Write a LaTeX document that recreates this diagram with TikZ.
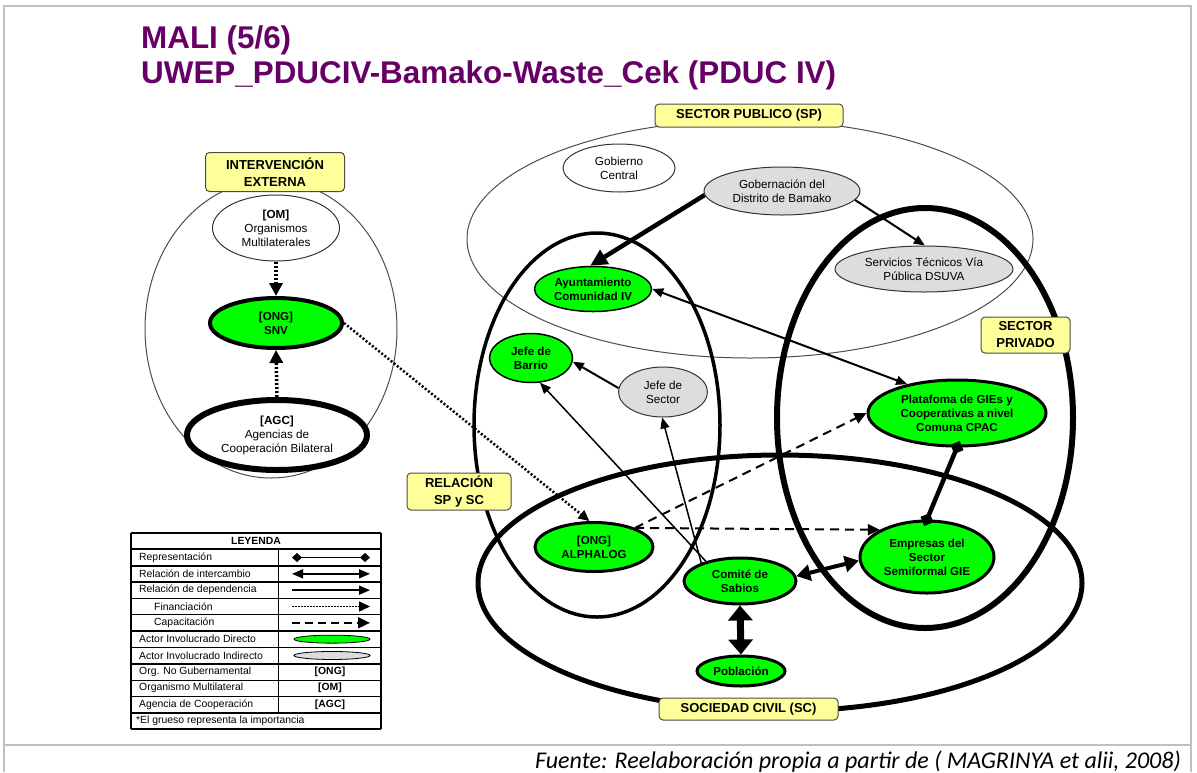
\documentclass[tikz,border=0pt]{standalone}
\usepackage{fontspec}
\setmainfont{Liberation Sans}
\newfontfamily\fuentefont{Carlito}
\usetikzlibrary{positioning, arrows.meta, shapes.geometric}

\definecolor{verde}{HTML}{00FF00}
\definecolor{gris}{HTML}{DDDDDD}
\definecolor{amarillo}{HTML}{FFFF99}
\definecolor{morado}{HTML}{660066}
\definecolor{marco}{HTML}{BFBFBF}

\begin{document}
\begin{tikzpicture}[x=1pt, y=-1pt, font=\fontsize{11.7}{14}\selectfont,
    sz/.style 2 args={minimum width=#1pt, minimum height=#2pt},
    grp/.style={ellipse, draw, inner sep=0pt},
    actor/.style={ellipse, draw=black!80, line width=1pt, inner sep=0pt, align=center, fill=white},
    actdir/.style={actor, draw=black, fill=verde, font=\bfseries\fontsize{11.6}{14}\selectfont},
    actind/.style={actor, fill=gris},
    etiq/.style={rectangle, rounded corners=4pt, draw=black!70, line width=1pt, fill=amarillo,
      inner sep=0pt, align=center, font=\bfseries\fontsize{13}{17}\selectfont},
    flecha/.style={-{Triangle[length=11pt, width=9pt]}, line width=2pt},
    interc/.style={{Triangle[length=11pt, width=9pt]}-{Triangle[length=11pt, width=9pt]}, line width=2pt},
    finan/.style={-{Triangle[length=11pt, width=10pt]}, line width=2.5pt, dash pattern=on 2pt off 2pt},
    capac/.style={-{Triangle[length=12pt, width=11pt]}, line width=2pt, dash pattern=on 9pt off 6pt},
    repres/.style={{Diamond[length=14pt, width=14pt]}-{Diamond[length=14pt, width=14pt]}, line width=4.5pt,
      shorten <=-7pt, shorten >=-7pt},
    leg/.style={anchor=west, inner sep=0pt, font=\fontsize{10.4}{12}\selectfont}]
  \useasboundingbox (0,0) rectangle (1197,772);

  % marco
  \draw[marco, line width=2pt] (4,772) -- (4,6) -- (1191,6) -- (1191,772);
  \draw[marco, line width=2pt] (4,745) -- (1191,745);

  % titulo
  \node[anchor=base west, inner sep=0pt, text=morado, font=\bfseries\fontsize{31.4}{31.4}\selectfont] (tit1) at (141,48) {MALI (5/6)};
  \node[anchor=base west, inner sep=0pt, text=morado, font=\bfseries\fontsize{31.4}{31.4}\selectfont] (tit2) at (141,83) {UWEP\_PDUCIV-Bamako-Waste\_Cek (PDUC IV)};

  % grupos
  \node[grp, draw=black!70, line width=1pt, sz={252}{298}] (gIE) at (271,329) {};
  \node[grp, draw=black!70, line width=1pt, sz={566}{238}] (gSP) at (750,239) {};
  \node[grp, line width=3.5pt, sz={246}{384}] (gRel) at (597,425) {};
  \node[grp, line width=6pt, sz={296}{420}] (gPriv) at (925,418) {};
  \node[grp, line width=5pt, sz={604}{256}] (gSC) at (780,583) {};

  \node[etiq, sz={139}{39}] (lIE) at (275,172) {INTERVENCIÓN\\EXTERNA};
  \node[etiq, sz={188}{23}] (lSP) at (749,115.5) {SECTOR PUBLICO (SP)};
  \node[etiq, sz={89}{36}] (lPriv) at (1025.5,335) {SECTOR\\PRIVADO};
  \node[etiq, sz={104}{37}] (lRel) at (459,491.5) {RELACIÓN\\SP y SC};
  \node[etiq, sz={179}{22}] (lSC) at (748.5,709) {SOCIEDAD CIVIL (SC)};

  % intervencion externa
  \node[actor, sz={127}{66}] (om) at (276,228) {\textbf{[OM]}\\Organismos\\Multilaterales};
  \node[actdir, line width=4pt, sz={132}{50}] (snv) at (276,323) {[ONG]\\SNV};
  \node[actor, draw=black, line width=6pt, sz={180}{70}] (agc) at (277,435) {\textbf{[AGC]}\\Agencias de\\Cooperación Bilateral};

  % sector publico
  \node[actor, sz={112}{48}] (gobc) at (619,168) {Gobierno\\Central};
  \node[actind, sz={156}{48}] (gob) at (782,191) {Gobernación del\\Distrito de Bamako};
  \node[actind, sz={178}{46}] (serv) at (924,269) {Servicios Técnicos Vía\\Pública DSUVA};
  \node[actdir, line width=1.5pt, sz={117}{45}] (ayto) at (593,289) {Ayuntamiento\\Comunidad IV};
  \node[actdir, line width=1.5pt, sz={83}{49}] (barrio) at (531,358) {Jefe de\\Barrio};
  \node[actind, sz={89}{50}] (sector) at (663,392) {Jefe de\\Sector};

  % sector privado y sociedad civil
  \node[actdir, line width=3pt, sz={178}{66}] (plat) at (957,413) {Platafoma de GIEs y\\Cooperativas a nivel\\Comuna CPAC};
  \node[actdir, line width=3pt, sz={118}{49}] (alpha) at (594,547) {[ONG]\\ALPHALOG};
  \node[actdir, line width=3pt, sz={112}{46}] (comite) at (740,581) {Comité de\\Sabios};
  \node[actdir, line width=3pt, sz={134}{72}] (emp) at (927,557) {Empresas del\\Sector\\Semiformal GIE};
  \node[actdir, line width=3pt, sz={88}{30}] (pob) at (741,671) {Población};

  % relaciones
  \draw[finan, line width=3.5pt, -{Triangle[length=13pt, width=13pt]}] (om.south) -- (snv.north);
  \draw[finan, line width=3.5pt, -{Triangle[length=13pt, width=13pt]}] (agc.north) -- (snv.south);
  \draw[finan] (snv.east) -- (alpha.100);
  \draw[flecha, line width=4.5pt, -{Triangle[length=17pt, width=16pt]}] (gob.183) -- (ayto.97);
  \draw[flecha] (gob.353) -- (serv.88);
  \draw[interc] (ayto.east) -- (plat.150);
  \draw[flecha] (sector.175) -- (barrio.355);
  \draw[flecha, line width=1.5pt] (comite.150) -- (barrio.290);
  \draw[flecha, line width=1.5pt] (comite.155) -- (sector.268);
  \draw[capac] (alpha.25) -- (plat.west);
  \draw[capac] (alpha.25) -- (emp.150);
  \draw[interc, line width=4pt, {Triangle[length=14pt, width=16pt]}-{Triangle[length=14pt, width=16pt]}] (comite.5) -- (emp.183);
  \draw[interc, line width=7pt, {Triangle[length=15pt, width=24pt]}-{Triangle[length=15pt, width=24pt]}] (comite.south) -- (pob.north);
  \draw[repres] (plat.south) -- (emp.north);

  % leyenda
  \foreach \k/\lw in {0/2,1/2,2/2,3/2,4/0.8,5/0.8,6/2,7/0.8,8/2,9/0.8,10/0.8,11/2,12/2}
    \draw[line width=\lw pt] (131,{533+16.33*\k}) -- (381,{533+16.33*\k});
  \draw[line width=2pt] (131,533) -- (131,729);
  \draw[line width=2pt] (381,533) -- (381,729);
  \draw[line width=0.8pt] (278,549.3) -- (278,712.7);
  \node[inner sep=0pt, font=\bfseries\fontsize{10.4}{12}\selectfont] (lg0) at (256,541.2) {LEYENDA};
  \foreach \k/\xi/\txt in {1/139/Representación, 2/139/Relación de intercambio, 3/139/Relación de dependencia,
      4/154/Financiación, 5/154/Capacitación, 6/139/Actor Involucrado Directo, 7/139/Actor Involucrado Indirecto,
      8/139/Org. No Gubernamental, 9/139/Organismo Multilateral, 10/139/Agencia de Cooperación,
      11/136/*El grueso representa la importancia}
    \node[leg] (lg\k) at (\xi,{533+16.33*(\k+0.5)}) {\txt};
  \foreach \k in {1,...,5} {
    \coordinate (la\k) at (292,{533+16.33*(\k+0.5)});
    \coordinate (lb\k) at (370,{533+16.33*(\k+0.5)});
  }
  \draw[{Diamond[length=10pt, width=9pt]}-{Diamond[length=10pt, width=9pt]}, line width=1.3pt] (la1) -- (lb1);
  \draw[interc, line width=1.5pt] (la2) -- (lb2);
  \draw[flecha, line width=1.5pt] (la3) -- (lb3);
  \draw[finan, line width=1.5pt, dash pattern=on 1.5pt off 1.5pt] (la4) -- (lb4);
  \draw[capac, line width=1.8pt, dash pattern=on 8pt off 5pt] (la5) -- (lb5);
  \node[ellipse, draw, line width=0.8pt, fill=verde, inner sep=0pt, sz={76}{8}] (lgdir) at (332,{533+16.33*6.5}) {};
  \node[ellipse, draw, line width=0.8pt, fill=gris, inner sep=0pt, sz={76}{8}] (lgind) at (332,{533+16.33*7.5}) {};
  \node[inner sep=0pt, font=\bfseries\fontsize{10.4}{12}\selectfont] (lgong) at (330,{533+16.33*8.5}) {[ONG]};
  \node[inner sep=0pt, font=\bfseries\fontsize{10.4}{12}\selectfont] (lgom) at (330,{533+16.33*9.5}) {[OM]};
  \node[inner sep=0pt, font=\bfseries\fontsize{10.4}{12}\selectfont] (lgagc) at (330,{533+16.33*10.5}) {[AGC]};

  % fuente
  \node[anchor=base east, inner sep=0pt, font=\fuentefont\itshape\fontsize{24}{24}\selectfont] (fuente) at (1181,768)
    {Fuente: Reelaboración propia a partir de ( MAGRINYA et alii, 2008)};
\end{tikzpicture}
\end{document}
